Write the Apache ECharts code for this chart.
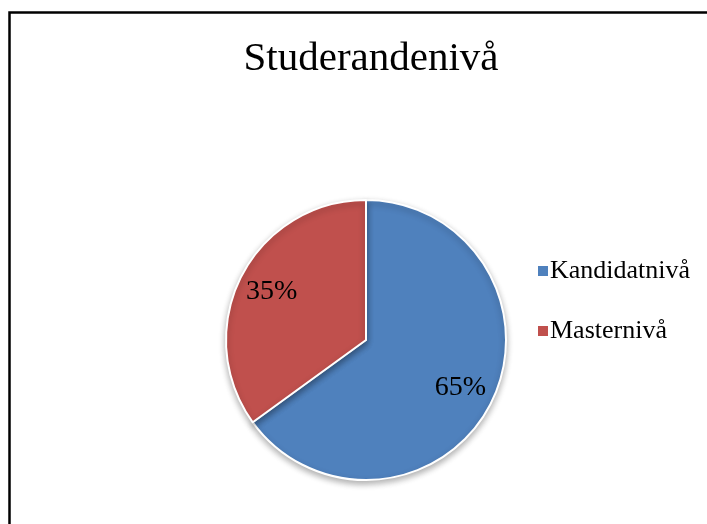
<!DOCTYPE html>
<html>
<head>
<meta charset="utf-8">
<script src="https://cdn.jsdelivr.net/npm/echarts@6/dist/echarts.min.js"></script>
<style>
  html, body { margin: 0; padding: 0; background: #fff; }
  #main { width: 707px; height: 524px; }
</style>
</head>
<body>
<div id="main"></div>
<script>
// chart data
const categories = ['Kandidatnivå', 'Masternivå']
const shares = [65, 35]
const colors = ['#4F81BD', '#C0504D']

const serif = '"Liberation Serif", "DejaVu Serif", serif'
const pieData = categories.map((name, i) => ({
    name: name,
    value: shares[i],
    itemStyle: { color: colors[i] }
}))

let chart = echarts.init(document.getElementById('main'))
let option = {
    backgroundColor: '#fff',
    animation: false,
    title: {
        text: 'Studerandenivå',
        left: 366,
        textAlign: 'center',
        top: 34,
        textStyle: { fontFamily: serif, fontSize: 41, fontWeight: 'normal', color: '#000' }
    },
    legend: {
        orient: 'vertical',
        left: 533,
        top: 251,
        icon: 'rect',
        itemWidth: 10,
        itemHeight: 10,
        itemGap: 30,
        data: categories,
        itemStyle: { borderWidth: 0, shadowBlur: 0, shadowOffsetY: 0 },
        textStyle: { fontFamily: serif, fontSize: 26, color: '#000', lineHeight: 30, padding: [0, 0, 0, -3] }
    },
    graphic: [{
        type: 'rect',
        shape: { x: 9.5, y: 12.5, width: 800, height: 600 },
        style: { fill: 'none', stroke: '#000', lineWidth: 2.5 },
        silent: true
    }],
    series: [{
        type: 'pie',
        center: [366, 340],
        radius: 140,
        startAngle: 90,
        clockwise: true,
        label: { show: false },
        labelLine: { show: false },
        itemStyle: {
            borderColor: '#fff',
            borderWidth: 2,
            shadowBlur: 6,
            shadowOffsetY: 3,
            shadowColor: 'rgba(0,0,0,0.3)'
        },
        emphasis: { disabled: true },
        data: pieData
    }, {
        // transparent ring only to place the percent labels further out
        type: 'pie',
        center: [366, 340],
        radius: [66, 140],
        startAngle: 90,
        clockwise: true,
        silent: true,
        legendHoverLink: false,
        itemStyle: { color: 'rgba(0,0,0,0)', borderWidth: 0 },
        label: {
            show: true,
            position: 'inside',
            formatter: p => p.value + '%',
            fontFamily: serif,
            fontSize: 28,
            color: '#000'
        },
        labelLine: { show: false },
        emphasis: { disabled: true },
        data: categories.map((name, i) => ({ name: name, value: shares[i] }))
    }]
}
chart.setOption(option)
</script>
</body>
</html>
